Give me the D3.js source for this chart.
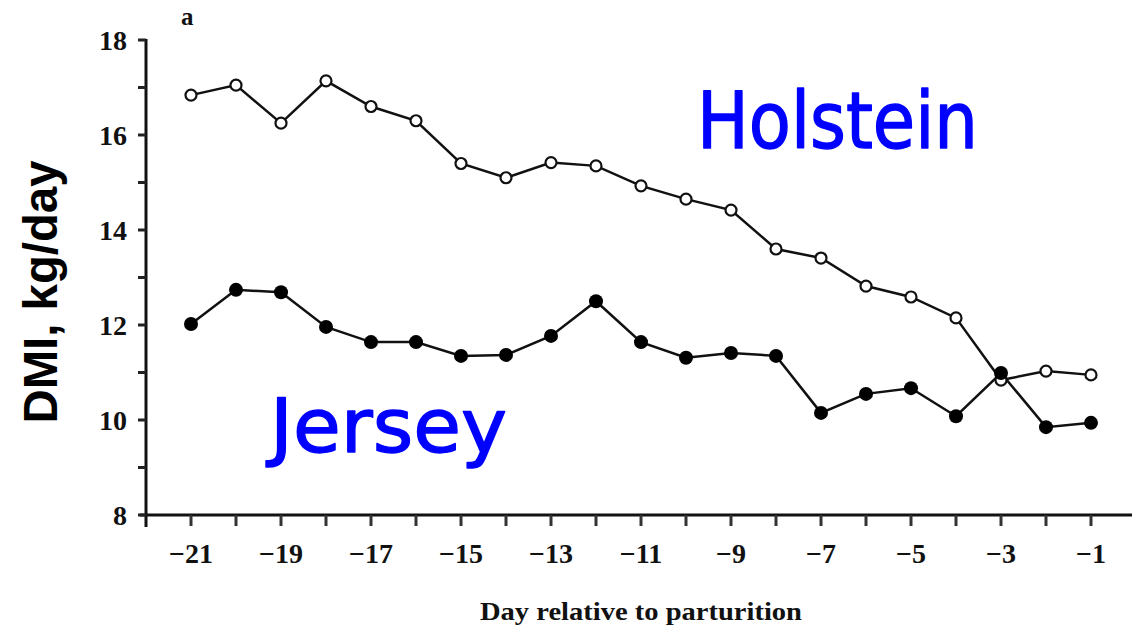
<!DOCTYPE html>
<html>
<head>
<meta charset="utf-8">
<script src="https://cdn.jsdelivr.net/npm/d3@7"></script>
<style>
  html, body { margin: 0; padding: 0; background: #fff; }
  svg { display: block; }
</style>
</head>
<body>
<svg id="chart" width="1132" height="630"></svg>
<script>
// Days before calving and daily dry matter intake (kg/day) per breed
const days = [-21, -20, -19, -18, -17, -16, -15, -14, -13, -12, -11, -10, -9, -8, -7, -6, -5, -4, -3, -2, -1];
const holstein = [16.84, 17.05, 16.25, 17.14, 16.6, 16.3, 15.4, 15.1, 15.42, 15.35, 14.93, 14.65, 14.42, 13.6, 13.41, 12.82, 12.59, 12.15, 10.84, 11.03, 10.95];
const jersey = [12.02, 12.74, 12.69, 11.96, 11.64, 11.64, 11.35, 11.37, 11.77, 12.5, 11.64, 11.31, 11.41, 11.35, 10.15, 10.55, 10.67, 10.08, 10.99, 9.85, 9.94];
const yTickValues = [8, 10, 12, 14, 16, 18];
const yMinorValues = [9, 11, 13, 15, 17];
const xLabelValues = [-21, -19, -17, -15, -13, -11, -9, -7, -5, -3, -1];
const xTickValues = d3.range(-21, 0);

const svg = d3.select("#chart");
const x = d3.scaleLinear().domain([-22, -1]).range([146, 1091]);
const y = d3.scaleLinear().domain([8, 18]).range([515, 40]);

const serif = "'Liberation Serif', 'Times New Roman', serif";

// Axes
const axisG = svg.append("g").attr("stroke", "#111").attr("stroke-width", 3);
axisG.append("line").attr("x1", 146).attr("x2", 146).attr("y1", y(18) - 1).attr("y2", y(8) + 12);
axisG.append("line").attr("x1", 140).attr("x2", 1132).attr("y1", y(8)).attr("y2", y(8));

// y ticks
svg.append("g").selectAll("line").data(yTickValues.concat(yMinorValues)).join("line")
  .attr("x1", 138).attr("x2", 146)
  .attr("y1", d => y(d)).attr("y2", d => y(d))
  .attr("stroke", "#222").attr("stroke-width", 3);
svg.append("g").selectAll("text").data(yTickValues).join("text")
  .attr("x", 127).attr("y", d => y(d) + 10)
  .attr("text-anchor", "end")
  .attr("font-family", serif).attr("font-weight", "bold").attr("font-size", 28)
  .attr("fill", "#111")
  .text(d => d);

// x ticks
svg.append("g").selectAll("line").data(xTickValues).join("line")
  .attr("x1", d => x(d)).attr("x2", d => x(d))
  .attr("y1", y(8)).attr("y2", y(8) + 11)
  .attr("stroke", "#333").attr("stroke-width", 3);
svg.append("g").selectAll("text").data(xLabelValues).join("text")
  .attr("x", d => x(d)).attr("y", 563)
  .attr("text-anchor", "middle")
  .attr("font-family", serif).attr("font-weight", "bold").attr("font-size", 28)
  .attr("fill", "#111")
  .text(d => "\u2212" + Math.abs(d));

// Axis titles and panel letter
svg.append("text")
  .attr("x", 480).attr("y", 620)
  .attr("font-family", serif).attr("font-weight", "bold").attr("font-size", 26)
  .attr("fill", "#111")
  .attr("textLength", 322).attr("lengthAdjust", "spacingAndGlyphs")
  .text("Day relative to parturition");

svg.append("text")
  .attr("transform", "translate(57,292) rotate(-90)")
  .attr("text-anchor", "middle")
  .attr("font-family", "'Liberation Sans', Arial, sans-serif").attr("font-weight", "bold").attr("font-size", 48)
  .attr("fill", "#000")
  .attr("textLength", 263).attr("lengthAdjust", "spacingAndGlyphs")
  .text("DMI, kg/day");

svg.append("text")
  .attr("x", 181).attr("y", 25)
  .attr("font-family", serif).attr("font-weight", "bold").attr("font-size", 25)
  .attr("fill", "#111")
  .text("a");

// Series lines
const line = d3.line().x((d, i) => x(days[i])).y(d => y(d));
svg.append("path").datum(holstein).attr("d", line)
  .attr("fill", "none").attr("stroke", "#111").attr("stroke-width", 2.5);
svg.append("path").datum(jersey).attr("d", line)
  .attr("fill", "none").attr("stroke", "#111").attr("stroke-width", 2.5);

// Markers: open circles for Holstein, filled circles for Jersey
svg.append("g").selectAll("circle").data(holstein).join("circle")
  .attr("cx", (d, i) => x(days[i])).attr("cy", d => y(d)).attr("r", 5.5)
  .attr("fill", "#fff").attr("stroke", "#111").attr("stroke-width", 2.2);
svg.append("g").selectAll("circle").data(jersey).join("circle")
  .attr("cx", (d, i) => x(days[i])).attr("cy", d => y(d)).attr("r", 7)
  .attr("fill", "#000");

// Breed labels (rounded handwritten look via a thin same-colour outline)
svg.append("text")
  .attr("x", 697).attr("y", 148)
  .attr("font-family", "'DejaVu Sans', sans-serif").attr("font-size", 78)
  .attr("fill", "#0000ff").attr("stroke", "#0000ff").attr("stroke-width", 1.4)
  .attr("stroke-linejoin", "round")
  .attr("textLength", 281).attr("lengthAdjust", "spacingAndGlyphs")
  .text("Holstein");
svg.append("text")
  .attr("x", 270).attr("y", 452)
  .attr("font-family", "'DejaVu Sans', sans-serif").attr("font-size", 75)
  .attr("fill", "#0000ff").attr("stroke", "#0000ff").attr("stroke-width", 1.4)
  .attr("stroke-linejoin", "round")
  .attr("textLength", 237).attr("lengthAdjust", "spacingAndGlyphs")
  .text("Jersey");
</script>
</body>
</html>
